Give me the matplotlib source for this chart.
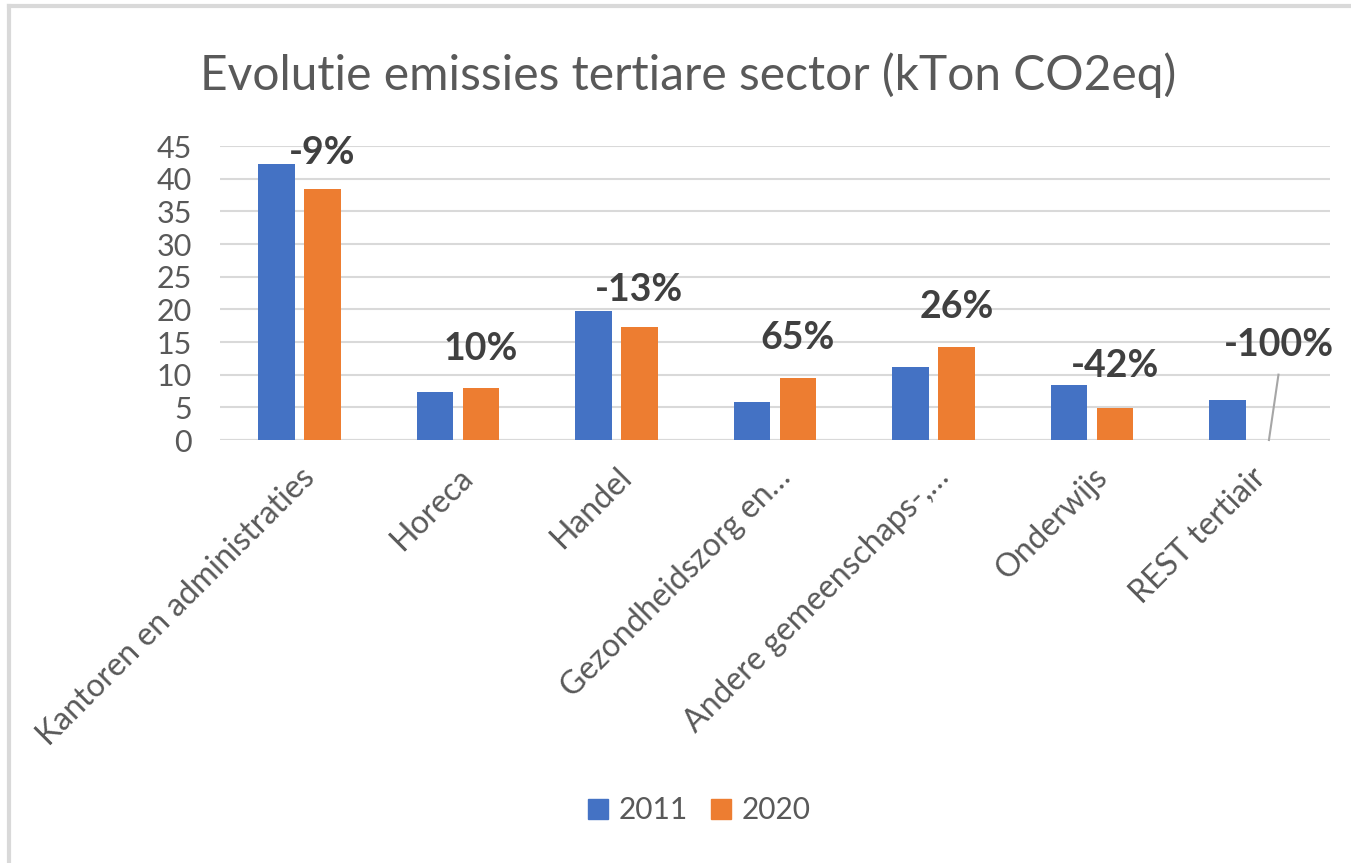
import matplotlib
matplotlib.use("Agg")
import matplotlib.pyplot as plt
import numpy as np
from matplotlib.lines import Line2D

plt.rcParams['font.family'] = ['Lato', 'DejaVu Sans']

categories = ["Kantoren en administraties", "Horeca", "Handel", "Gezondheidszorg en…",
              "Andere gemeenschaps-,…", "Onderwijs", "REST tertiair"]
v2011 = [42.3, 7.3, 19.8, 5.8, 11.2, 8.4, 6.1]
v2020 = [38.4, 8.0, 17.3, 9.5, 14.2, 4.9, 0.0]
pct_labels = ["-9%", "10%", "-13%", "65%", "26%", "-42%", "-100%"]
label_y = [44.0, 14.0, 23.0, 15.6, 20.4, 11.3, 14.5]
label_dx = [0.0, 0.0, 0.0, 0.0, 0.0, 0.0, 0.03]
yticks = [0, 5, 10, 15, 20, 25, 30, 35, 40, 45]
series_names = ["2011", "2020"]
c2011 = "#4472C4"
c2020 = "#ED7D31"
txt = "#595959"

W, H = 1351, 863
fig = plt.figure(figsize=(W / 100, H / 100), dpi=100)
ax = fig.add_axes([220 / W, 1 - 440 / H, (1330 - 220) / W, (440 - 146) / H])

x = np.arange(len(categories))
bw = 0.23
ax.bar(x - 0.145, v2011, bw, color=c2011, zorder=3, label=series_names[0])
ax.bar(x + 0.145, v2020, bw, color=c2020, zorder=3, label=series_names[1])

ax.set_xlim(-0.5, len(categories) - 0.5)
ax.set_ylim(0, 45)
ax.set_yticks(yticks)
ax.yaxis.grid(True, color="#D9D9D9", linewidth=1.5, zorder=0)
ax.tick_params(axis='y', length=0, labelsize=22, labelcolor=txt, pad=20)
ax.tick_params(axis='x', length=0, labelsize=23, labelcolor=txt, pad=16)
for s in ax.spines.values():
    s.set_visible(False)
ax.axhline(0, color="#D9D9D9", linewidth=1.5, zorder=2)

ax.set_xticks(x)
ax.set_xticklabels(categories, rotation=45, ha='right', rotation_mode='anchor')

for i, (lab, ly) in enumerate(zip(pct_labels, label_y)):
    ax.text(x[i] + 0.145 + label_dx[i], ly, lab, ha='center', va='center',
            fontsize=27, fontweight='bold', color="#404040", zorder=4)

# leader line for the last label
ax.plot([x[-1] + 0.145 - 0.03, x[-1] + 0.145 + 0.03], [0, 10], color="#A6A6A6",
        linewidth=1.5, zorder=4, clip_on=False)

fig.text(688 / W, 1 - 75 / H, "Evolutie emissies tertiare sector (kTon CO2eq)",
         ha='center', va='center', fontsize=34.5, color=txt)

handles = [Line2D([], [], marker='s', linestyle='none', markersize=14, color=c2011),
           Line2D([], [], marker='s', linestyle='none', markersize=14, color=c2020)]
fig.legend(handles, series_names, loc='center', bbox_to_anchor=(697 / W, 1 - 810 / H),
           ncol=2, frameon=False, fontsize=21.5, labelcolor=txt, handletextpad=0.2,
           columnspacing=0.6, handlelength=1.0)

# chart border (left and top visible)
fig.add_artist(Line2D([9 / W, 9 / W], [0, 1 - 6 / H], color="#D9D9D9", linewidth=3,
                      transform=fig.transFigure))
fig.add_artist(Line2D([9 / W, 1], [1 - 6 / H, 1 - 6 / H], color="#D9D9D9", linewidth=3,
                      transform=fig.transFigure))

fig.savefig("out.png", dpi=100, facecolor="white")
